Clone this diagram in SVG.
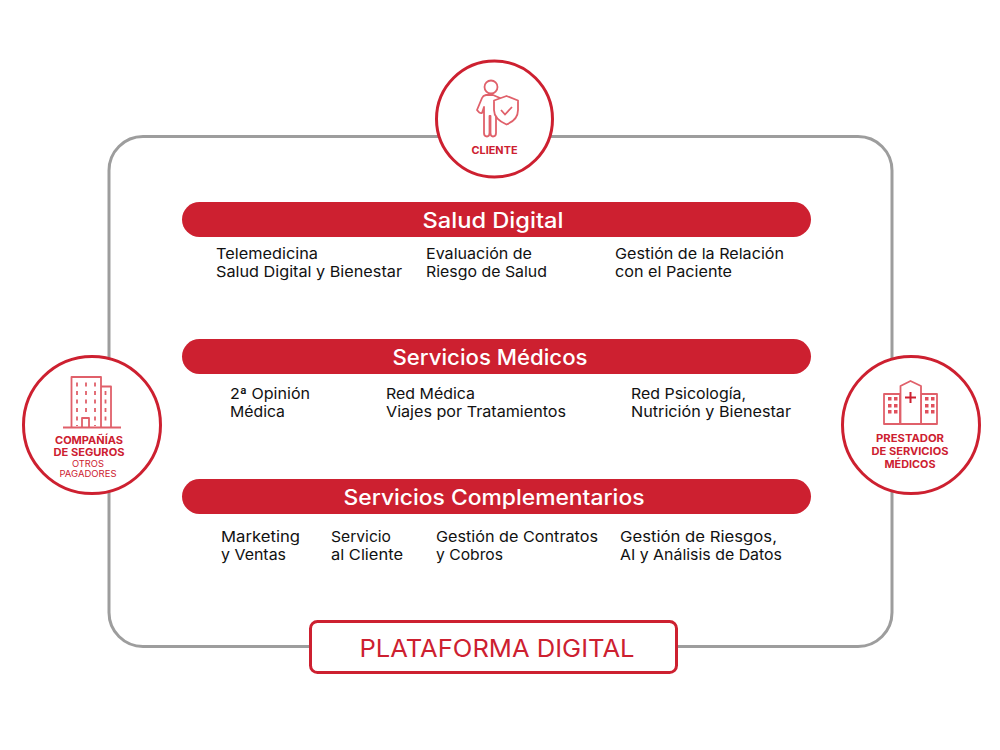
<svg xmlns="http://www.w3.org/2000/svg" width="1000" height="750" viewBox="0 0 1000 750">
<style>
text{font-family:Inter,"Liberation Sans",sans-serif}
.bar{fill:#cd2030}
.bt{fill:#fff;font-size:21px;font-weight:500;text-anchor:middle}
.b{fill:#111;font-size:15px;font-weight:400}
.c{fill:#fff;stroke:#cd2030;stroke-width:3}
.l{fill:#cd2030;font-size:10.5px;font-weight:700;text-anchor:middle}
.s{fill:#cd2030;font-size:8.5px;font-weight:400;text-anchor:middle}
.i{fill:#fff;stroke:#e0606a;stroke-width:1.8;stroke-linejoin:round}
.d{fill:#e0505c}
</style>
<rect id="plataforma-frame" x="109" y="136.500" width="783" height="510" rx="34" fill="#fff" stroke="#9d9d9d" stroke-width="3"/>
<g id="salud-digital">
<rect class="bar" x="182" y="202" width="629" height="35" rx="17.500"/>
<text class="bt" x="493" y="228" textLength="141" lengthAdjust="spacingAndGlyphs">Salud Digital</text>
<text class="b" x="216" y="259" textLength="102" lengthAdjust="spacingAndGlyphs">Telemedicina</text>
<text class="b" x="216" y="277" textLength="186" lengthAdjust="spacingAndGlyphs">Salud Digital y Bienestar</text>
<text class="b" x="426" y="259" textLength="106" lengthAdjust="spacingAndGlyphs">Evaluación de</text>
<text class="b" x="426" y="277" textLength="121" lengthAdjust="spacingAndGlyphs">Riesgo de Salud</text>
<text class="b" x="615" y="259" textLength="169" lengthAdjust="spacingAndGlyphs">Gestión de la Relación</text>
<text class="b" x="615" y="277" textLength="117" lengthAdjust="spacingAndGlyphs">con el Paciente</text>
</g>
<g id="servicios-medicos">
<rect class="bar" x="182" y="339" width="629" height="35" rx="17.500"/>
<text class="bt" x="490" y="365" textLength="195" lengthAdjust="spacingAndGlyphs">Servicios Médicos</text>
<text class="b" x="230" y="399" textLength="80" lengthAdjust="spacingAndGlyphs">2ª Opinión</text>
<text class="b" x="230" y="417" textLength="55" lengthAdjust="spacingAndGlyphs">Médica</text>
<text class="b" x="386" y="399" textLength="89" lengthAdjust="spacingAndGlyphs">Red Médica</text>
<text class="b" x="386" y="417" textLength="180" lengthAdjust="spacingAndGlyphs">Viajes por Tratamientos</text>
<text class="b" x="631" y="399" textLength="115" lengthAdjust="spacingAndGlyphs">Red Psicología,</text>
<text class="b" x="631" y="417" textLength="160" lengthAdjust="spacingAndGlyphs">Nutrición y Bienestar</text>
</g>
<g id="servicios-complementarios">
<rect class="bar" x="182" y="479" width="629" height="35" rx="17.500"/>
<text class="bt" x="494" y="505" textLength="301" lengthAdjust="spacingAndGlyphs">Servicios Complementarios</text>
<text class="b" x="221" y="542" textLength="79" lengthAdjust="spacingAndGlyphs">Marketing</text>
<text class="b" x="221" y="560" textLength="65" lengthAdjust="spacingAndGlyphs">y Ventas</text>
<text class="b" x="331" y="542" textLength="60" lengthAdjust="spacingAndGlyphs">Servicio</text>
<text class="b" x="331" y="560" textLength="72" lengthAdjust="spacingAndGlyphs">al Cliente</text>
<text class="b" x="436" y="542" textLength="162" lengthAdjust="spacingAndGlyphs">Gestión de Contratos</text>
<text class="b" x="436" y="560" textLength="67" lengthAdjust="spacingAndGlyphs">y Cobros</text>
<text class="b" x="620" y="542" textLength="157" lengthAdjust="spacingAndGlyphs">Gestión de Riesgos,</text>
<text class="b" x="620" y="560" textLength="162" lengthAdjust="spacingAndGlyphs">AI y Análisis de Datos</text>
</g>
<g id="cliente">
<circle class="c" cx="494.500" cy="119" r="58"/>
<circle class="i" cx="491" cy="87" r="6.500"/>
<path class="i" d="M486 95H493L500 98L497 103L496 103V133Q496 136.500 493 136.500Q490.500 136.500 490.500 133V116H489.500V133Q489.500 136.500 487 136.500Q484 136.500 484 133V107L482 113Q480 114 477 110L482 98Q483 95.500 486 95Z"/>
<path class="i" d="M506.500 96L518 100.500V110Q518 120 506.500 124.500Q494 119 494 110V100.500Z"/>
<path d="M501 110L505 114.500L512 107" fill="none" stroke="#e0606a" stroke-width="1.800"/>
<text class="l" x="494.500" y="154" textLength="46" lengthAdjust="spacingAndGlyphs">CLIENTE</text>
</g>
<g id="companias">
<circle class="c" cx="92" cy="425" r="68.500"/>
<path class="i" fill="none" style="fill:none" d="M71.500 427V377H101V427M101 386.500H111V427M63 427.500H121M82 427V418H89V427"/>
<path d="M77 382.500V426M86 382.500V414M95 382.500V426M105.500 391V424" fill="none" stroke="#e0606a" stroke-width="1.800" stroke-dasharray="4 4.500"/>
<text class="l" x="89" y="444" textLength="68" lengthAdjust="spacingAndGlyphs">COMPAÑÍAS</text>
<text class="l" x="89" y="456" textLength="71" lengthAdjust="spacingAndGlyphs">DE SEGUROS</text>
<text class="s" x="88" y="467" textLength="32" lengthAdjust="spacingAndGlyphs">OTROS</text>
<text class="s" x="88" y="477" textLength="57" lengthAdjust="spacingAndGlyphs">PAGADORES</text>
</g>
<g id="prestador">
<circle class="c" cx="911" cy="425" r="68.500"/>
<path class="i" d="M884 394H900V424H884ZM921 394H937V424H921Z"/>
<path class="i" d="M900.500 386L910.500 381L921 386V424H900.500Z"/>
<path d="M910.500 392V403M905 397.500H916" fill="none" stroke="#cd2030" stroke-width="2"/>
<path class="d" d="M888 397h3.500v3.500h-3.500zM894 397h3.500v3.500h-3.500zM888 404h3.500v3.500h-3.500zM894 404h3.500v3.500h-3.500zM888 410h3.500v3.500h-3.500zM894 410h3.500v3.500h-3.500zM925 397h3.500v3.500h-3.500zM931 397h3.500v3.500h-3.500zM925 404h3.500v3.500h-3.500zM931 404h3.500v3.500h-3.500zM925 410h3.500v3.500h-3.500zM931 410h3.500v3.500h-3.500z"/>
<text class="l" x="910" y="442" textLength="68" lengthAdjust="spacingAndGlyphs">PRESTADOR</text>
<text class="l" x="910" y="455" textLength="77" lengthAdjust="spacingAndGlyphs">DE SERVICIOS</text>
<text class="l" x="910" y="468" textLength="51" lengthAdjust="spacingAndGlyphs">MÉDICOS</text>
</g>
<g id="plataforma-digital">
<rect x="310.500" y="621.500" width="366" height="51" rx="7" fill="#fff" stroke="#cd2030" stroke-width="3"/>
<text x="497" y="657" fill="#cd2030" font-size="24" text-anchor="middle" textLength="275" lengthAdjust="spacingAndGlyphs">PLATAFORMA DIGITAL</text>
</g>
</svg>
